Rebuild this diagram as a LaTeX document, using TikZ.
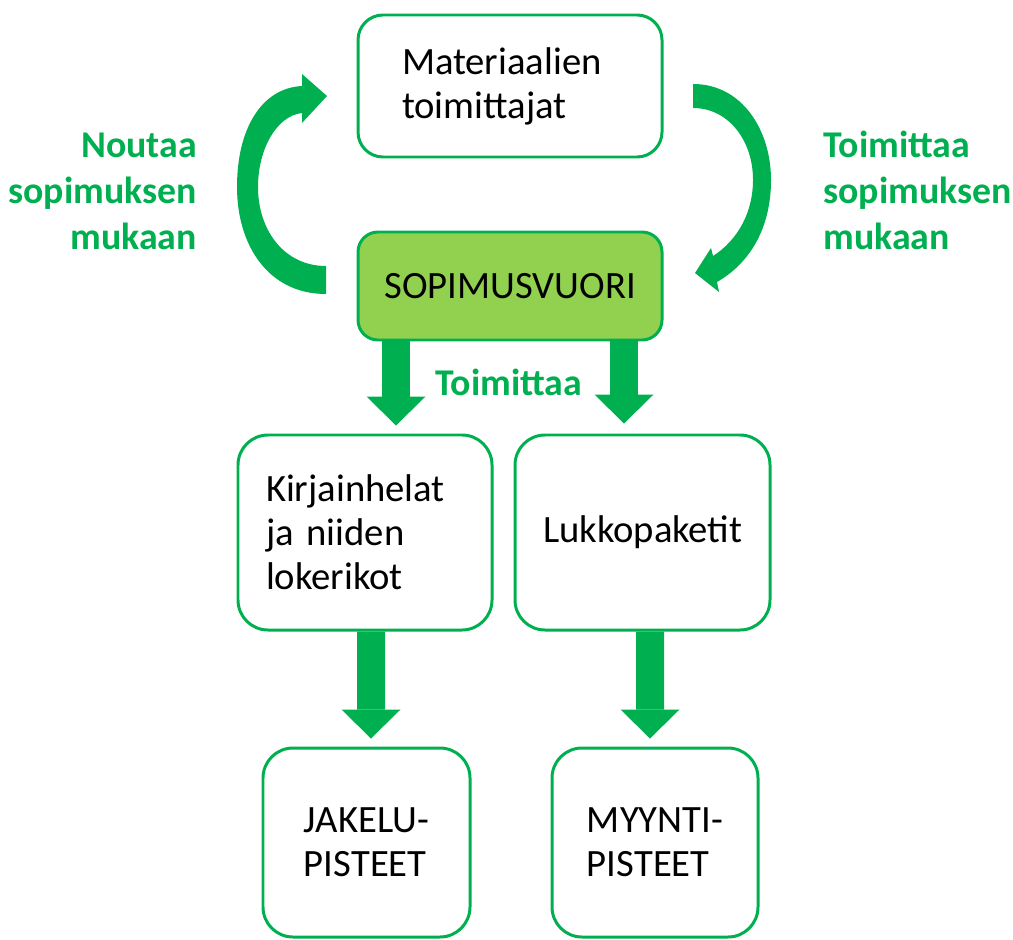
\documentclass[tikz,border=0pt]{standalone}
\usepackage{fontspec}
\setmainfont{Carlito}
\usetikzlibrary{arrows.meta,calc}
\definecolor{MyGreen}{RGB}{0, 176, 80}
\definecolor{MyLight}{RGB}{146, 208, 80}
\newcommand{\lw}{1.7pt}
\newcommand{\pxl}{0.02cm}

\begin{document}
\begin{tikzpicture}[x=\pxl, y=-\pxl,
    box/.style={draw=MyGreen, line width=\lw, rounded corners=0.6cm, align=left,
      inner sep=0pt, font=\fontsize{22}{25}\selectfont},
    lbl/.style={text=MyGreen, inner sep=0pt, font=\fontsize{21.5}{26.2}\selectfont\bfseries},
    blockarrow/.style={draw=MyGreen, line width=0.56cm,
      -{Triangle[width=1.18cm, length=0.58cm, line width=0pt]}}]
  \useasboundingbox (0,0) rectangle (1013,939);
  % boxes
  \node[box, rounded corners=0.5cm, minimum width=304*\pxl, minimum height=142*\pxl,
    text width=216*\pxl] (mat) at (510,86) {Materiaalien\\toimittajat};
  \node[box, fill=MyLight, rounded corners=0.4cm, minimum width=304*\pxl,
    minimum height=108*\pxl] (sop) at (510,286) {SOPIMUSVUORI};
  \node[box, minimum width=254*\pxl, minimum height=195*\pxl,
    text width=198*\pxl] (kirj) at (365,532.5) {Kirjainhelat\\ja niiden\\lokerikot};
  \node[box, minimum width=255*\pxl, minimum height=195*\pxl,
    text width=199*\pxl] (luk) at (642.5,532.5) {Lukkopaketit};
  \node[box, minimum width=207*\pxl, minimum height=189*\pxl] (jak) at (366.5,842.5) {JAKELU-\\PISTEET};
  \node[box, minimum width=206*\pxl, minimum height=189*\pxl] (myy) at (655,842.5) {MYYNTI-\\PISTEET};
  % labels
  \node[lbl, align=right, anchor=north east] (nouta) at (197,133) {Noutaa\\sopimuksen\\mukaan};
  \node[lbl, align=left, anchor=north west] (toimsop) at (823,131) {Toimittaa\\sopimuksen\\mukaan};
  \node[lbl, anchor=north west] (toim) at (435,369) {Toimittaa};
  % straight arrows
  \draw[blockarrow] ($(sop.south)+(-114,0)$) -- ($(kirj.north)+(31,-8)$);
  \draw[blockarrow] ($(sop.south)+(114,0)$) -- ($(luk.north)+(-18.5,-10)$);
  \draw[blockarrow] ($(kirj.south)+(6,0)$) -- ($(jak.north)+(4.5,-8)$);
  \draw[blockarrow] ($(luk.south)+(7.5,0)$) -- ($(myy.north)+(-5,-8)$);
  % curved arrows
  \fill[MyGreen] (326,294) .. controls (268,294) and (237,245) .. (237,187)
    .. controls (237,128) and (262,88) .. (302,86) -- (302,74) -- (327,96)
    -- (302,123) -- (302,113) .. controls (276,116) and (258,150) .. (258,187)
    .. controls (258,230) and (284,266) .. (326,266) -- cycle;
  \fill[MyGreen] (693,84) .. controls (742,84) and (771,130) .. (771,180)
    .. controls (771,228) and (750,263) .. (717,282) -- (719,292) -- (695,273)
    -- (711,248) -- (713,256) .. controls (738,240) and (753,212) .. (753,180)
    .. controls (753,140) and (728,108) .. (693,108) -- cycle;
\end{tikzpicture}
\end{document}
